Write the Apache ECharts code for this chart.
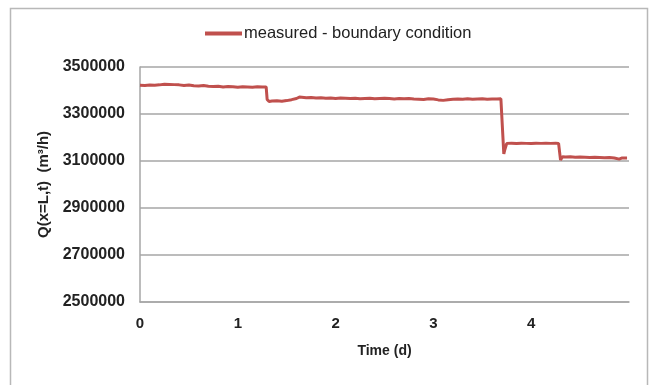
<!DOCTYPE html>
<html>
<head>
<meta charset="utf-8">
<script src="https://cdn.jsdelivr.net/npm/echarts@6/dist/echarts.min.js"></script>
<style>
html,body{margin:0;padding:0;background:#fff;}
#chart{width:655px;height:385px;}
</style>
</head>
<body>
<div id="chart"></div>
<script>
var seriesName = 'measured - boundary condition';
var xTitle = 'Time (d)';
var yTitle = 'Q(x=L,t)  (m\u00b3/h)';
var xTicks = [0, 1, 2, 3, 4];
var yTicks = [2500000, 2700000, 2900000, 3100000, 3300000, 3500000];

var timeDays = [
  0.00,0.05,0.10,0.15,0.20,0.25,0.30,0.35,0.40,0.45,0.50,0.55,0.60,0.65,0.70,0.75,0.80,0.85,0.90,0.95,
  1.00,1.05,1.10,1.15,1.20,1.25,1.29,1.30,1.32,1.35,1.40,1.45,1.50,1.55,1.60,1.63,1.70,1.75,1.80,1.85,
  1.90,1.95,2.00,2.05,2.10,2.15,2.20,2.25,2.30,2.35,2.40,2.45,2.50,2.55,2.60,2.65,2.70,2.75,2.80,2.85,
  2.90,2.95,3.00,3.05,3.10,3.15,3.20,3.25,3.30,3.35,3.40,3.45,3.50,3.55,3.60,3.65,3.69,3.70,3.72,3.73,
  3.75,3.80,3.85,3.90,3.95,4.00,4.05,4.10,4.15,4.20,4.25,4.28,4.29,4.30,4.32,4.35,4.40,4.45,4.50,4.55,
  4.60,4.65,4.70,4.75,4.80,4.85,4.90,4.93,4.95,4.98
];
var flowValues = [
  3422000,3421000,3423000,3422000,3424000,3427000,3426000,3425000,3424000,3421000,3423000,3420000,3419000,3421000,3418000,3417000,3418000,3415000,3417000,3416000,
  3414000,3416000,3415000,3414000,3416000,3415000,3415000,3362000,3353000,3355000,3356000,3354000,3357000,3361000,3366000,3372000,3369000,3370000,3368000,3369000,
  3367000,3368000,3366000,3368000,3367000,3366000,3367000,3365000,3366000,3367000,3365000,3366000,3367000,3366000,3364000,3366000,3365000,3366000,3364000,3363000,
  3362000,3365000,3364000,3360000,3358000,3361000,3363000,3364000,3363000,3365000,3363000,3364000,3365000,3363000,3364000,3364000,3365000,3362000,3130000,3148000,
  3175000,3176000,3174000,3176000,3175000,3174000,3176000,3175000,3176000,3175000,3176000,3175000,3170000,3104000,3118000,3117000,3118000,3116000,3117000,3116000,
  3115000,3116000,3115000,3114000,3115000,3113000,3108000,3113000,3110000,3113000
];

var data = timeDays.map(function (t, i) { return [t, flowValues[i]]; });

var chart = echarts.init(document.getElementById('chart'), null, {renderer: 'canvas'});
var fontFam = '"Liberation Sans", Arial, sans-serif';
chart.setOption({
  backgroundColor: '#ffffff',
  animation: false,
  graphic: [{
    type: 'rect',
    shape: {x: 10.5, y: 8.5, width: 637, height: 390},
    style: {fill: 'none', stroke: '#b8b8b8', lineWidth: 1.5},
    silent: true
  }],
  legend: {
    top: 20,
    left: 200,
    itemWidth: 37,
    itemHeight: 4,
    itemGap: 0,
    icon: 'rect',
    textStyle: {fontFamily: fontFam, fontSize: 16.5, color: '#222', padding: [0, 0, 0, -3]},
    data: [seriesName]
  },
  grid: {left: 140, right: 26, top: 67, bottom: 83},
  xAxis: {
    type: 'value',
    min: 0,
    max: 5,
    interval: 1,
    name: xTitle,
    nameLocation: 'middle',
    nameGap: 42,
    nameTextStyle: {fontFamily: fontFam, fontSize: 14, fontWeight: 'bold', color: '#222'},
    axisLine: {show: true, lineStyle: {color: '#a6a6a6', width: 1.5}},
    axisTick: {show: false},
    splitLine: {show: false},
    axisLabel: {
      fontFamily: fontFam, fontSize: 15, fontWeight: 'bold', color: '#222', margin: 14,
      formatter: function (v) { return xTicks.indexOf(v) >= 0 ? String(v) : ''; }
    }
  },
  yAxis: {
    type: 'value',
    min: yTicks[0],
    max: yTicks[yTicks.length - 1],
    interval: 200000,
    name: yTitle,
    nameLocation: 'middle',
    nameGap: 84,
    nameRotate: 90,
    nameTextStyle: {fontFamily: fontFam, fontSize: 15, fontWeight: 'bold', color: '#222'},
    axisLine: {show: true, lineStyle: {color: '#a6a6a6', width: 1.5}},
    axisTick: {show: false},
    splitLine: {show: true, lineStyle: {color: '#a6a6a6', width: 1.5}},
    axisLabel: {
      fontFamily: fontFam, fontSize: 16, fontWeight: 'bold', color: '#222', margin: 15,
      formatter: function (v) { return String(v); }
    }
  },
  series: [{
    name: seriesName,
    type: 'line',
    data: data,
    showSymbol: false,
    symbol: 'none',
    lineStyle: {color: '#c0504d', width: 3},
    itemStyle: {color: '#c0504d'}
  }]
});
</script>
</body>
</html>
